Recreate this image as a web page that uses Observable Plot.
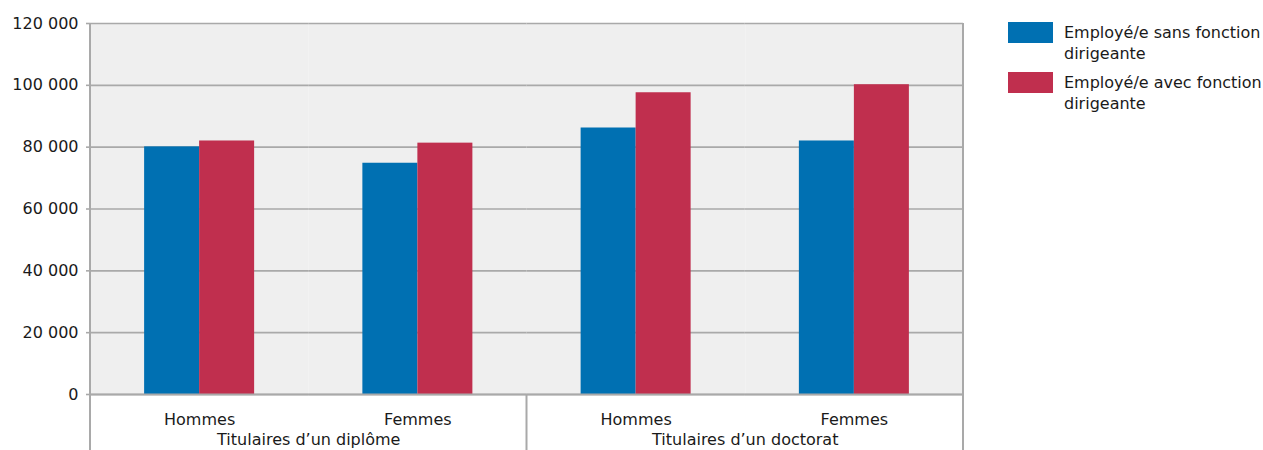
<!DOCTYPE html>
<html>
<head>
<meta charset="utf-8">
<script src="https://cdn.jsdelivr.net/npm/d3@7"></script>
<script src="https://cdn.jsdelivr.net/npm/@observablehq/plot@0.6"></script>
<style>
  html, body { margin: 0; padding: 0; background: #fff; }
  body { font-family: "DejaVu Sans", sans-serif; color: #1a1a1a; }
  #wrap { position: relative; width: 1263px; height: 450px; overflow: hidden; }
  #chart { position: absolute; left: 0; top: 0; }
  #legend { position: absolute; left: 1008px; top: 22px; font-size: 16px; line-height: 21px; }
  .item { display: flex; align-items: flex-start; margin-bottom: 8px; }
  .sw { width: 45px; height: 21px; flex: none; margin-right: 11px; }
  .lbl { margin-top: 0px; }
</style>
</head>
<body>
<div id="wrap">
  <div id="chart"></div>
  <div id="legend"></div>
</div>
<script>
// ---- data ----
const groups = ["Titulaires d’un diplôme", "Titulaires d’un doctorat"];
const sexes = ["Hommes", "Femmes"];
const seriesNames = ["Employé/e sans fonction dirigeante", "Employé/e avec fonction dirigeante"];
const seriesColors = ["#0070b2", "#c02f4e"];
// order: diplôme-Hommes, diplôme-Femmes, doctorat-Hommes, doctorat-Femmes
const sansValues = [80100, 74800, 86200, 82000];
const avecValues = [82000, 81300, 97600, 100200];
const yTicks = [0, 20000, 40000, 60000, 80000, 100000, 120000];

// ---- build table ----
const cats = [];
groups.forEach(g => sexes.forEach(s => cats.push({key: g + "|" + s, group: g, sex: s})));
const rows = [];
cats.forEach((c, i) => {
  rows.push({key: c.key, series: seriesNames[0], value: sansValues[i]});
  rows.push({key: c.key, series: seriesNames[1], value: avecValues[i]});
});
const groupFirst = groups.map(g => ({key: g + "|" + sexes[0], label: g}));

const fmt = v => d3.format(",")(v).replace(/,/g, " ");
const gridColor = "#a9a9a9";

const plot = Plot.plot({
  width: 1000,
  height: 450,
  marginLeft: 90,
  marginRight: 37,
  marginTop: 23,
  marginBottom: 56,
  style: {fontFamily: "DejaVu Sans, sans-serif", fontSize: "16px", color: "#1a1a1a", background: "transparent"},
  fx: {domain: cats.map(c => c.key), padding: 0, round: false},
  x: {domain: seriesNames, paddingInner: 0, paddingOuter: 0.984, round: false, axis: null},
  y: {domain: [0, 120000], axis: null},
  color: {domain: seriesNames, range: seriesColors},
  marks: [
    Plot.frame({fill: "#efefef", stroke: "none"}),
    Plot.gridY(yTicks, {stroke: gridColor, strokeOpacity: 1, strokeWidth: 1.6}),
    Plot.axisY(yTicks, {tickFormat: fmt, tickSize: 4, tickPadding: 8, stroke: gridColor, strokeWidth: 1.6, label: null}),
    Plot.barY(rows, {fx: "key", x: "series", y: "value", fill: "series"}),
    Plot.ruleY([0], {stroke: gridColor, strokeWidth: 2.2}),
    Plot.axisFx({anchor: "bottom", tickFormat: k => k.split("|")[1], tickSize: 0, tickPadding: 19, label: null}),
    Plot.text(groupFirst, {fx: "key", text: "label", frameAnchor: "bottom-right", textAnchor: "middle", lineAnchor: "top", dy: 39})
  ]
});
document.getElementById("chart").appendChild(plot);

// structural vertical lines, positioned from the fx scale
const fx = plot.scale("fx");
const y = plot.scale("y");
const bw = fx.bandwidth;
const svg = d3.select(plot);
const yTop = y.apply(120000), yBot = 450;
const xs = [fx.apply(cats[0].key), fx.apply(groupFirst[1].key), fx.apply(cats[cats.length - 1].key) + bw];
xs.forEach((xv, i) => {
  svg.append("line")
    .attr("x1", xv).attr("x2", xv)
    .attr("y1", i === 1 ? y.apply(0) : yTop).attr("y2", yBot)
    .attr("stroke", gridColor).attr("stroke-width", 2);
});

// legend
const leg = d3.select("#legend");
seriesNames.forEach((s, i) => {
  const it = leg.append("div").attr("class", "item");
  it.append("div").attr("class", "sw").style("background", seriesColors[i]);
  const words = s.split(" ");
  it.append("div").attr("class", "lbl").html(words.slice(0, -1).join(" ") + "<br>" + words[words.length - 1]);
});
</script>
</body>
</html>
